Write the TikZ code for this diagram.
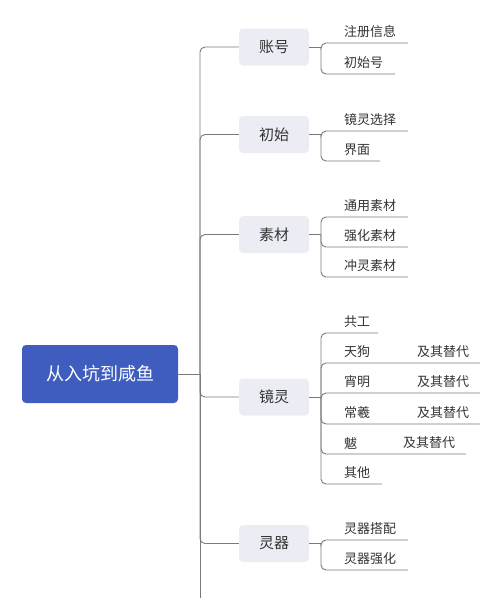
\documentclass[tikz,border=0pt]{standalone}
\usepackage{fontspec}
\setmainfont{Noto Sans CJK SC}
\definecolor{rootblue}{HTML}{3E5DBF}
\definecolor{boxfill}{HTML}{ECEDF4}
\definecolor{linegray}{HTML}{7A7A7A}
\definecolor{txt}{HTML}{333333}
\tikzset{
  rootbox/.style={fill=rootblue, rounded corners=4pt, minimum width=156pt, minimum height=58pt, text=white, font=\fontsize{18pt}{20pt}\selectfont, inner sep=0pt},
  grpbox/.style={fill=boxfill, rounded corners=4pt, minimum width=70pt, minimum height=37pt, text=txt, font=\fontsize{15pt}{17pt}\selectfont, inner sep=0pt},
  leaf/.style={anchor=west, text=txt, font=\fontsize{13pt}{15pt}\selectfont, inner sep=0pt},
  conn/.style={draw=linegray, line width=0.9pt, rounded corners=5pt}
}
\begin{document}
\begin{tikzpicture}[x=1pt,y=-1pt]
\useasboundingbox (0,0) rectangle (500,598);
% root
\node[rootbox] (root) at (100,374) {从入坑到咸鱼};
\coordinate (j0) at (200,374);
\coordinate (tb) at (200,598);
% groups
\node[grpbox] (g1) at (274,47) {账号};
\node[grpbox] (g2) at (274,134.5) {初始};
\node[grpbox] (g3) at (274,234.5) {素材};
\node[grpbox] (g4) at (274,397) {镜灵};
\node[grpbox] (g5) at (274,543.5) {灵器};
% trunk
\draw[conn] (root.east) -- (j0);
\draw[conn] (j0) -- (tb);
\foreach \g in {g1,g2,g3,g4,g5}{\draw[conn] (j0) |- (\g.west);}
% junctions
\coordinate (k1) at (321,47);
\coordinate (k2) at (321,134.5);
\coordinate (k3) at (321,234.5);
\coordinate (k4) at (321,397);
\coordinate (k5) at (321,543.5);
\foreach \g/\k in {g1/k1,g2/k2,g3/k3,g4/k4,g5/k5}{\draw[conn,rounded corners=0pt] (\g.east) -- (\k);}
% group 1
\node[leaf] (a1) at (344,32) {注册信息}; \coordinate (a1e) at (408,43);
\node[leaf] (a2) at (344,63) {初始号}; \coordinate (a2e) at (395,74);
\draw[conn] (k1) |- (a1e); \draw[conn] (k1) |- (a2e);
% group 2
\node[leaf] (b1) at (344,120) {镜灵选择}; \coordinate (b1e) at (408,131);
\node[leaf] (b2) at (344,150) {界面}; \coordinate (b2e) at (380,161);
\draw[conn] (k2) |- (b1e); \draw[conn] (k2) |- (b2e);
% group 3
\node[leaf] (c1) at (344,206) {通用素材}; \coordinate (c1e) at (408,217);
\node[leaf] (c2) at (344,236) {强化素材}; \coordinate (c2e) at (408,247);
\node[leaf] (c3) at (344,266) {冲灵素材}; \coordinate (c3e) at (408,277);
\draw[conn] (k3) |- (c1e); \draw[conn] (k3) |- (c2e); \draw[conn] (k3) |- (c3e);
% group 4
\node[leaf] (d1) at (344,322) {共工}; \coordinate (d1e) at (378,333);
\node[leaf] (d2) at (344,352) {天狗}; \node[leaf] (d2b) at (417,352) {及其替代}; \coordinate (d2e) at (480,363);
\node[leaf] (d3) at (344,382) {宵明}; \node[leaf] (d3b) at (417,382) {及其替代}; \coordinate (d3e) at (480,393);
\node[leaf] (d4) at (344,413) {常羲}; \node[leaf] (d4b) at (417,413) {及其替代}; \coordinate (d4e) at (480,424);
\node[leaf] (d5) at (344,443) {魃}; \node[leaf] (d5b) at (403,443) {及其替代}; \coordinate (d5e) at (466,454);
\node[leaf] (d6) at (344,473) {其他}; \coordinate (d6e) at (382,484);
\foreach \e in {d1e,d2e,d3e,d4e,d5e,d6e}{\draw[conn] (k4) |- (\e);}
% group 5
\node[leaf] (f1) at (344,529) {灵器搭配}; \coordinate (f1e) at (408,540);
\node[leaf] (f2) at (344,559) {灵器强化}; \coordinate (f2e) at (408,570);
\draw[conn] (k5) |- (f1e); \draw[conn] (k5) |- (f2e);
\end{tikzpicture}
\end{document}
